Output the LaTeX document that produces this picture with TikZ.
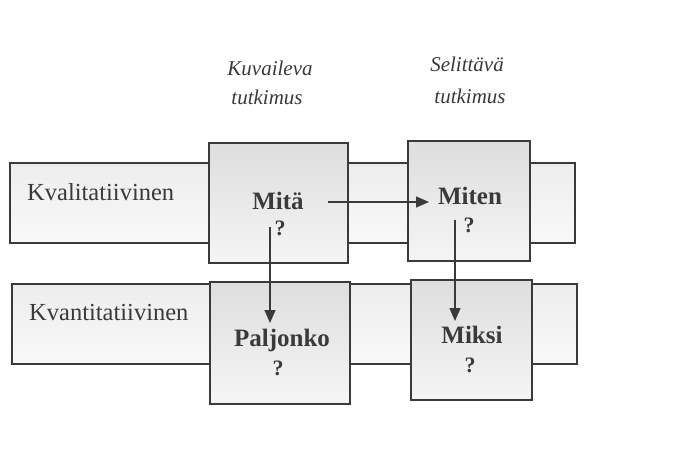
\documentclass[tikz,border=0pt]{standalone}
\usepackage{fontspec}
\setmainfont{Liberation Serif}
\usetikzlibrary{arrows.meta}
\definecolor{ink}{HTML}{3A3A3A}
\begin{document}
\begin{tikzpicture}[x=1pt,y=-1pt,
  band/.style={draw=ink, line width=1.4pt, top color=gray!14, bottom color=gray!5,
    minimum width=565pt, minimum height=80pt, inner sep=0pt},
  cell/.style={draw=ink, line width=1.4pt, top color=gray!26, bottom color=gray!8,
    inner sep=0pt},
  rowlabel/.style={text=ink, font=\fontsize{24.5}{28}\selectfont, anchor=west, inner sep=0pt},
  word/.style={text=ink, font=\bfseries\fontsize{25}{29}\selectfont, inner sep=0pt},
  qmark/.style={text=ink, font=\bfseries\fontsize{22}{26}\selectfont, inner sep=0pt},
  head/.style={text=ink, font=\itshape\fontsize{21}{25}\selectfont, inner sep=0pt},
  arr/.style={draw=ink, line width=1.4pt, -{Triangle[length=13pt,width=11pt]}}]
\useasboundingbox (0,0) rectangle (694,463);

% column headings
\node[head] (h1a) at (270,68) {Kuvaileva};
\node[head] (h1b) at (267,97) {tutkimus};
\node[head] (h2a) at (467,64) {Selittävä};
\node[head] (h2b) at (470,96) {tutkimus};

% the two horizontal bands
\node[band] (qual) at (292.5,203) {};
\node[band] (quan) at (294.5,324) {};
\node[rowlabel] (quallab) at (27,192) {Kvalitatiivinen};
\node[rowlabel] (quanlab) at (29,313) {Kvantitatiivinen};

% the four question cells
\node[cell, minimum width=139pt, minimum height=120pt] (c11) at (278.5,203) {};
\node[cell, minimum width=122pt, minimum height=120pt] (c12) at (469,201) {};
\node[cell, minimum width=140pt, minimum height=122pt] (c21) at (280,343) {};
\node[cell, minimum width=121pt, minimum height=120pt] (c22) at (471.5,340) {};

\node[word] (mita) at (278,201) {Mitä};
\node[qmark] (q11) at (280,228) {?};
\node[word] (miten) at (470,196) {Miten};
\node[qmark] (q12) at (469,225) {?};
\node[word] (paljonko) at (282,340) {Paljonko};
\node[qmark] (q21) at (278,368) {?};
\node[word] (miksi) at (472,335) {Miksi};
\node[qmark] (q22) at (470,365) {?};

% arrow end points
\coordinate (s1) at (328,202);
\coordinate (e1) at (429,202);
\coordinate (s2) at (270,227);
\coordinate (e2) at (270,323);
\coordinate (s3) at (455,220);
\coordinate (e3) at (455,321);

\draw[arr] (s1) -- (e1);
\draw[arr] (s2) -- (e2);
\draw[arr] (s3) -- (e3);
\end{tikzpicture}
\end{document}
